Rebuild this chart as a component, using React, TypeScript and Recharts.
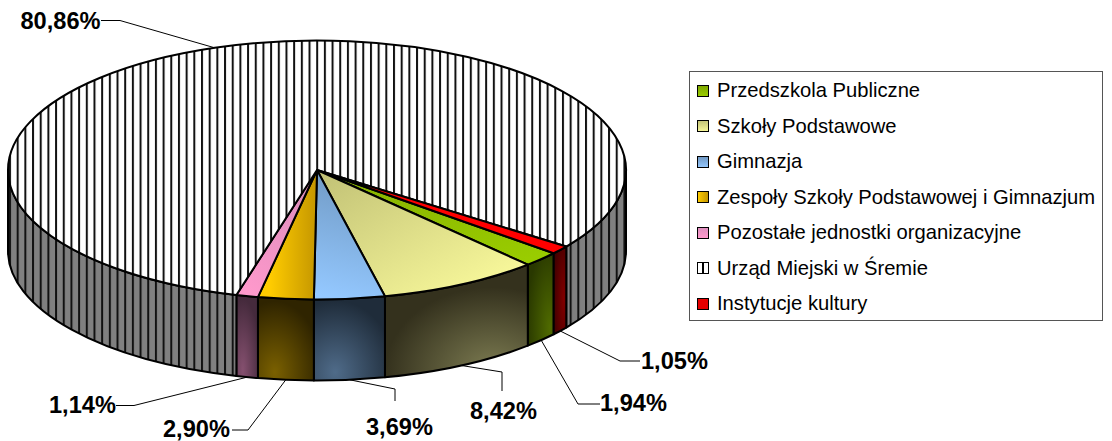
import React from 'react';
import { PieChart, Pie, Legend } from 'recharts';

// ---- data
const categories = [
  'Przedszkola Publiczne',
  'Szkoły Podstawowe',
  'Gimnazja',
  'Zespoły Szkoły Podstawowej i Gimnazjum',
  'Pozostałe jednostki organizacyjne',
  'Urząd Miejski w Śremie',
  'Instytucje kultury',
];
const shares = [1.94, 8.42, 3.69, 2.9, 1.14, 80.86, 1.05];

// ---- styles / layout (not data)
const ids = ['green', 'yellow', 'blue', 'orange', 'pink', 'hatch', 'red'];
const swatches = [
  'linear-gradient(#7fa800,#99cc00)',
  'linear-gradient(#c4c478,#f5f598)',
  'linear-gradient(#7199c4,#93c6fb)',
  'linear-gradient(90deg,#ffcc00,#c49600)',
  'linear-gradient(#df8fbf,#ff99cc)',
  'linear-gradient(90deg,#fff 0 4px,#000 4px 6px,#fff 6px)',
  '#e60000',
];
const CX = 317, CY = 170, RX = 309, RY = 129.5, DEPTH = 81;
const FONT = '"Liberation Sans", Arial, sans-serif';
// [elbow x, elbow y, tail x, tail y, text left x, text centre y]
const leaders = [
  [578, 404, 600, 404, 600, 402.5],
  [502, 372, 502, 391, 470, 410.5],
  [395, 389, 395, 401, 366, 426.5],
  [248, 430, 232, 430, 163, 428.5],
  [134, 405.5, 116, 405.5, 49, 405],
  [120, 20.5, 101, 20.5, 20.5, 21],
  [620, 361, 640, 361, 641, 360.5],
];

const pt = (deg: number, extra = 0) => {
  const a = (deg * Math.PI) / 180;
  return [CX + RX * Math.cos(a), CY + RY * Math.sin(a) + extra];
};

const SliceShape = (props: any) => {
  const t0 = -props.startAngle;
  const t1 = -props.endAngle;
  const key = ids[categories.indexOf(props.name)] ?? 'hatch';
  const [sx, sy] = pt(t0);
  const [ex, ey] = pt(t1);
  const large = t1 - t0 > 180 ? 1 : 0;
  const top = `M${CX},${CY} L${sx},${sy} A${RX},${RY} 0 ${large} 1 ${ex},${ey} Z`;
  const walls: string[] = [];
  for (const k of [0, 360]) {
    const a = Math.max(t0, k);
    const b = Math.min(t1, k + 180);
    if (b > a) {
      const [ax, ay] = pt(a);
      const [bx, by] = pt(b);
      const [cx2, cy2] = pt(b, DEPTH);
      const [dx, dy] = pt(a, DEPTH);
      walls.push(
        `M${ax},${ay} A${RX},${RY} 0 0 1 ${bx},${by} L${cx2},${cy2} A${RX},${RY} 0 0 0 ${dx},${dy} Z`,
      );
    }
  }
  return (
    <g>
      {walls.map((d, i) => (
        <path key={i} d={d} fill={`url(#wall-${key})`} stroke="#000" strokeWidth={2} strokeLinejoin="round" />
      ))}
      <path d={top} fill={`url(#top-${key})`} stroke="#000" strokeWidth={2} strokeLinejoin="round" />
    </g>
  );
};

const SliceLabel = (props: any) => {
  const { index, midAngle, value } = props;
  const t = -midAngle;
  const norm = ((t % 360) + 360) % 360;
  const [x0, y0] = pt(t, norm > 0 && norm < 180 ? DEPTH : 0);
  const [ex, ey, tx, ty, lx, ly] = leaders[index];
  return (
    <g>
      <polyline points={`${x0},${y0} ${ex},${ey} ${tx},${ty}`} fill="none" stroke="#000" strokeWidth={1} />
      <text x={lx} y={ly} dominantBaseline="central" fontFamily={FONT} fontWeight={700} fontSize={23.6} fill="#000">
        {`${value.toFixed(2).replace('.', ',')}%`}
      </text>
    </g>
  );
};

const LegendBox = ({ payload }: any) => (
  <div
    style={{
      boxSizing: 'border-box',
      width: 414,
      height: 250,
      border: '1px solid #555',
      background: '#fff',
      paddingTop: 1,
      fontFamily: FONT,
      fontSize: 20.2,
      color: '#000',
    }}
  >
    {(payload ?? []).map((p: any, i: number) => (
      <div key={i} style={{ height: 35.5, display: 'flex', alignItems: 'center', whiteSpace: 'nowrap' }}>
        <span
          style={{
            boxSizing: 'border-box',
            display: 'inline-block',
            width: 12,
            height: 12,
            marginLeft: 7,
            marginRight: 8,
            border: '1.5px solid #000',
            background: swatches[i],
          }}
        />
        {p.value}
      </div>
    ))}
  </div>
);

const table = categories.map((name, i) => ({ name, value: shares[i], fill: `url(#top-${ids[i]})` }));

const radial = (id: string, cx: number, cy: number, r: number, inner: string, outer: string) => (
  <radialGradient id={id} cx={cx} cy={cy} r={r}>
    <stop offset="0" stopColor={inner} />
    <stop offset="1" stopColor={outer} />
  </radialGradient>
);
const linear = (id: string, x1: number, y1: number, x2: number, y2: number, a: string, b: string) => (
  <linearGradient id={id} x1={x1} y1={y1} x2={x2} y2={y2}>
    <stop offset="0" stopColor={a} />
    <stop offset="1" stopColor={b} />
  </linearGradient>
);

export default function App() {
  return (
    <div style={{ position: 'absolute', left: 0, top: 0, width: 1112, height: 441, background: '#fff' }}>
      <PieChart width={1112} height={441} margin={{ top: 0, right: 0, bottom: 0, left: 0 }}>
        <defs>
          <pattern id="top-hatch" patternUnits="userSpaceOnUse" x={9} y={0} width={7.68} height={10}>
            <rect width={7.68} height={10} fill="#fff" />
            <rect x={0} width={2} height={10} fill="#111" />
          </pattern>
          <pattern id="wall-hatch" patternUnits="userSpaceOnUse" x={9} y={0} width={7.68} height={10}>
            <rect width={7.68} height={10} fill="#808080" />
            <rect x={0} width={2} height={10} fill="#111" />
          </pattern>
          {linear('top-green', 0.1, 0, 0.8, 1, '#86b000', '#99cc00')}
          {linear('top-yellow', 0.05, 0, 0.85, 0.85, '#c2c276', '#f6f699')}
          {linear('top-blue', 0.5, 0, 0.35, 1, '#6f98c2', '#94c8ff')}
          {linear('top-orange', 0.2, 0.5, 1, 0.5, '#ffcc00', '#c49600')}
          {linear('top-pink', 0.8, 0, 0.2, 1, '#db8cba', '#ff99cc')}
          <linearGradient id="top-red"><stop stopColor="#ff0000" /></linearGradient>
          {radial('wall-green', 0.85, 0.8, 0.9, '#4f6a00', '#293800')}
          {radial('wall-yellow', 0.75, 0.95, 0.75, '#7d7c52', '#34311d')}
          {radial('wall-blue', 0.3, 0.9, 0.85, '#4f6b89', '#1f2c3a')}
          {radial('wall-orange', 0.3, 0.9, 0.85, '#7a6000', '#2f2400')}
          {radial('wall-pink', 0.3, 0.9, 0.85, '#85506f', '#452a3c')}
          {radial('wall-red', 0.8, 0.6, 0.9, '#800000', '#3b0000')}
        </defs>
        <Pie
          data={table}
          dataKey="value"
          nameKey="name"
          cx={CX}
          cy={CY}
          innerRadius={0}
          outerRadius={RX}
          startAngle={-40}
          endAngle={-400}
          paddingAngle={0}
          isAnimationActive={false}
          shape={SliceShape}
          label={SliceLabel}
          labelLine={false}
        />
        <Legend
          content={LegendBox}
          itemSorter={null}
          wrapperStyle={{ position: 'absolute', left: 689, top: 71, width: 414, height: 250 }}
        />
      </PieChart>
    </div>
  );
}
